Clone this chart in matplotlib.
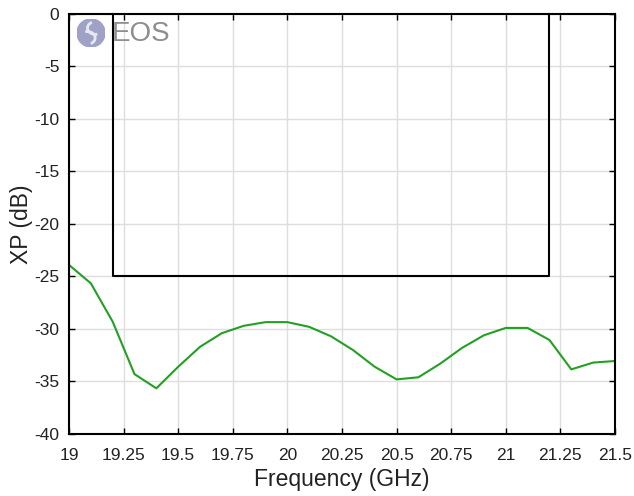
import matplotlib.pyplot as plt
from matplotlib.patches import Circle, Arc

plt.rcParams['font.family'] = ['Liberation Sans', 'DejaVu Sans']
plt.rcParams['axes.unicode_minus'] = False

# measured cross-polar level
freq = [19.0, 19.1, 19.2, 19.3, 19.4, 19.5, 19.6, 19.7, 19.8, 19.9,
        20.0, 20.1, 20.2, 20.3, 20.4, 20.5, 20.6, 20.7, 20.8, 20.9,
        21.0, 21.1, 21.2, 21.3, 21.4, 21.5]
xp = [-23.9, -25.65, -29.3, -34.3, -35.65, -33.6, -31.7, -30.4, -29.7, -29.35,
      -29.35, -29.8, -30.7, -32.0, -33.6, -34.8, -34.6, -33.3, -31.8, -30.6,
      -29.9, -29.9, -31.05, -33.85, -33.2, -33.05]

# spec mask
mask_f = [19.2, 19.2, 21.2, 21.2]
mask_v = [0, -25, -25, 0]

xticks = [19, 19.25, 19.5, 19.75, 20, 20.25, 20.5, 20.75, 21, 21.25, 21.5]
xticklabels = ['19', '19.25', '19.5', '19.75', '20', '20.25', '20.5', '20.75', '21', '21.25', '21.5']
yticks = [0, -5, -10, -15, -20, -25, -30, -35, -40]

fig = plt.figure(figsize=(6.34, 4.96), dpi=100, facecolor='white')
ax = fig.add_axes([0.1088, 0.125, 0.8612, 0.847])

ax.plot(mask_f, mask_v, color='black', lw=1.5, clip_on=False)
ax.plot(freq, xp, color='#22a022', lw=1.5)

ax.set_xlim(19, 21.5)
ax.set_ylim(-40, 0)
ax.set_xticks(xticks)
ax.set_xticklabels(xticklabels)
ax.set_yticks(yticks)
ax.grid(True, color='#dedede', lw=1)
ax.set_axisbelow(True)
ax.tick_params(direction='in', top=True, right=True, labelsize=12.5, length=4, width=1,
               colors='black', labelcolor='#222222')
ax.tick_params(axis='x', pad=10)
ax.tick_params(axis='y', pad=7)
for s in ax.spines.values():
    s.set_linewidth(1.5)
ax.set_xlabel('Frequency (GHz)', fontsize=16.5, labelpad=4, color='#222222')
ax.set_ylabel('XP (dB)', fontsize=16.5, labelpad=1, color='#222222')

# logo
lax = fig.add_axes([0.1435 - 0.0221, 0.9335 - 0.0282, 0.0442, 0.0565])
lax.set_xlim(-1, 1)
lax.set_ylim(-1, 1)
lax.set_aspect('equal')
lax.axis('off')
lax.add_patch(Circle((0, 0), 1.0, color='#a0a1c6'))
lax.add_patch(Arc((0.3, 0.35), 1.1, 0.9, theta1=120, theta2=290, color='#e8e8f0', lw=2))
lax.add_patch(Arc((-0.25, -0.35), 1.1, 0.9, theta1=300, theta2=470, color='#e8e8f0', lw=2))
fig.text(0.176, 0.932, 'EOS', fontsize=20, color='#8e8e8e', va='center', ha='left')

fig.savefig('out.png', dpi=100, facecolor='white')
